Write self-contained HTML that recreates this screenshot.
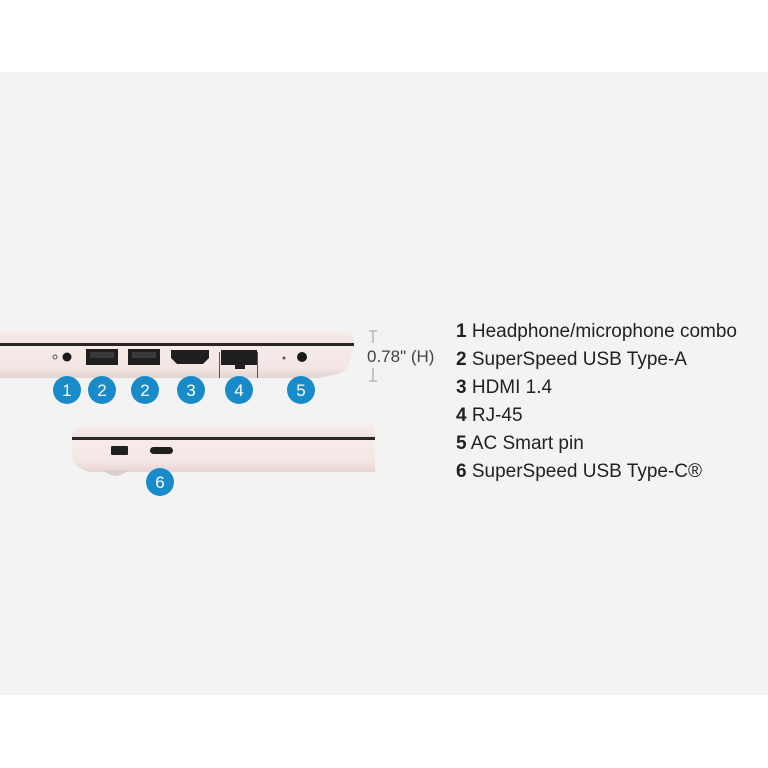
<!DOCTYPE html>
<html><head><meta charset="utf-8"><style>
html,body{margin:0;padding:0;background:#fff;}
svg{display:block}
text{font-family:"Liberation Sans",sans-serif;}
</style></head><body>
<svg width="768" height="768" viewBox="0 0 768 768" xmlns="http://www.w3.org/2000/svg">
<defs>
<linearGradient id="lid" x1="0" y1="0" x2="0" y2="1"><stop offset="0" stop-color="#f8eeec"/><stop offset="1" stop-color="#efe1df"/></linearGradient>
<linearGradient id="base" x1="0" y1="0" x2="0" y2="1"><stop offset="0" stop-color="#f7eceb"/><stop offset="0.7" stop-color="#f3e5e3"/><stop offset="1" stop-color="#e3d3d1"/></linearGradient>
</defs>
<rect x="0" y="0" width="768" height="768" fill="#fff"/>
<rect x="0" y="72" width="768" height="623" fill="#f3f3f3"/>

<!-- Laptop 1 -->
<path d="M0 331 L343 331 Q354 333 354 342 L354 344 L0 344 Z" fill="url(#lid)"/>
<rect x="0" y="343" width="354" height="3" fill="#2a2626"/>
<path d="M0 346 L352 346 Q352 370 338 374 L318 378 L0 378 Z" fill="url(#base)"/>
<circle cx="55" cy="357" r="2" fill="none" stroke="#555" stroke-width="1"/>
<circle cx="67" cy="357" r="4.5" fill="#1a1a1a"/>
<rect x="86" y="349" width="32" height="16" fill="#1f1f1f"/>
<rect x="90" y="352" width="24" height="6" fill="#3a3a3a"/>
<rect x="128" y="349" width="32" height="16" fill="#1f1f1f"/>
<rect x="132" y="352" width="24" height="6" fill="#3a3a3a"/>
<path d="M171 350 L209 350 L209 358 L203 364 L177 364 L171 358 Z" fill="#1f1f1f"/>
<rect x="221" y="350" width="36" height="15" fill="#1f1f1f"/>
<rect x="235" y="365" width="10" height="4" fill="#1f1f1f"/>
<rect x="219" y="352" width="1" height="26" fill="#555"/>
<rect x="257" y="352" width="1" height="26" fill="#555"/>
<circle cx="284" cy="358" r="1.5" fill="#555"/>
<circle cx="302" cy="357" r="5" fill="#1a1a1a"/>

<!-- Laptop 2 -->
<path d="M84 425 L375 425 L375 438 L72 438 Q72 427 84 425 Z" fill="url(#lid)"/>
<rect x="72" y="437" width="303" height="3" fill="#2a2626"/>
<path d="M72 440 L375 440 L375 472 L90 472 Q73 468 72 455 Z" fill="url(#base)"/>
<path d="M103 470 L128 470 Q122 476 116 476 Q108 475 103 470 Z" fill="#ddcfcd"/>
<rect x="111" y="446" width="17" height="9" rx="1" fill="#1f1f1f"/>
<rect x="150" y="447" width="23" height="7" rx="3.5" fill="#1f1f1f"/>

<g fill="#1a8bc9">
<circle cx="67" cy="390" r="14"/><circle cx="102" cy="390" r="14"/><circle cx="145" cy="390" r="14"/>
<circle cx="191" cy="390" r="14"/><circle cx="239" cy="390" r="14"/><circle cx="301" cy="390" r="14"/>
<circle cx="160" cy="482" r="14"/>
</g>
<g fill="#fff" font-size="17" text-anchor="middle">
<text x="67" y="396">1</text><text x="102" y="396">2</text><text x="145" y="396">2</text>
<text x="191" y="396">3</text><text x="239" y="396">4</text><text x="301" y="396">5</text>
<text x="160" y="488">6</text>
</g>

<g stroke="#999" stroke-width="1">
<line x1="373" y1="331" x2="373" y2="343"/><line x1="369" y1="331" x2="377" y2="331"/>
<line x1="373" y1="368" x2="373" y2="381"/><line x1="369" y1="381" x2="377" y2="381"/>
</g>
<text x="367" y="362" font-size="17" fill="#444">0.78" (H)</text>

<g font-size="19" fill="#222">
<text x="456" y="337"><tspan font-weight="bold">1</tspan> Headphone/microphone combo</text>
<text x="456" y="365"><tspan font-weight="bold">2</tspan> SuperSpeed USB Type-A</text>
<text x="456" y="393"><tspan font-weight="bold">3</tspan> HDMI 1.4</text>
<text x="456" y="421"><tspan font-weight="bold">4</tspan> RJ-45</text>
<text x="456" y="449"><tspan font-weight="bold">5</tspan> AC Smart pin</text>
<text x="456" y="477"><tspan font-weight="bold">6</tspan> SuperSpeed USB Type-C®</text>
</g>
</svg>
</body></html>
